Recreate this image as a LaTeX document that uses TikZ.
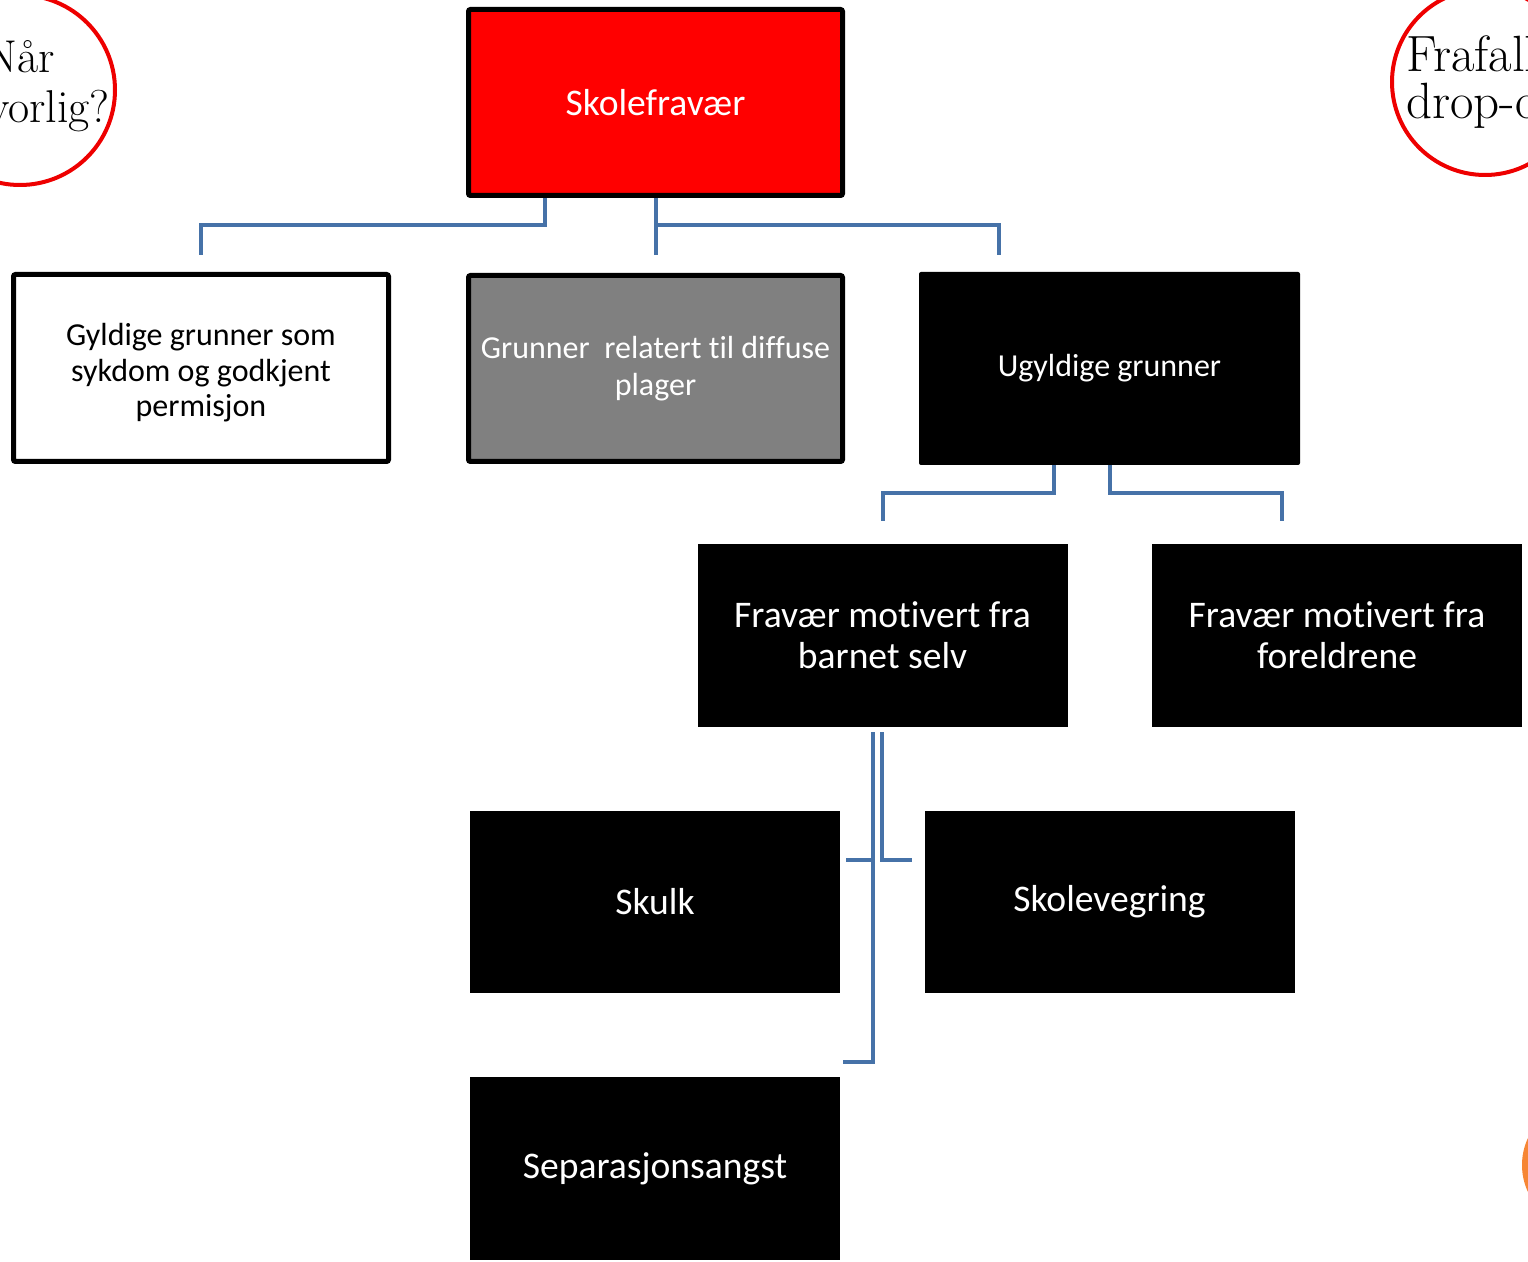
\documentclass[tikz,border=0pt]{standalone}
\usepackage{fontspec}
\newfontfamily\calib[Ligatures=NoCommon]{Carlito}
\definecolor{conncol}{RGB}{70,114,168}
\definecolor{circred}{RGB}{238,0,0}
\definecolor{orangec}{RGB}{246,134,52}
\definecolor{grayfill}{RGB}{128,128,128}
\begin{document}
\begin{tikzpicture}[x=0.5pt,y=-0.5pt,
  boxbase/.style={rectangle,align=center,font=\calib,inner sep=0pt},
  framedbox/.style={boxbase,draw=black,line width=2.5pt,rounded corners=1pt},
  blackbox/.style={boxbase,fill=black,text=white,minimum width=185pt,minimum height=91.5pt},
  bigtext/.style={font=\calib\fontsize{18.8pt}{20.5pt}\selectfont},
  midtext/.style={font=\calib\fontsize{16pt}{17.8pt}\selectfont},
  conn/.style={draw=conncol,line width=2pt},
  circ/.style={draw=circred,line width=2pt}]
\useasboundingbox (0,0) rectangle (1528,1262);
% circles in corners
\draw[circ] (20,90) circle[radius=47.5pt];
\node[anchor=base east,font=\fontsize{23pt}{26pt}\selectfont,inner sep=0pt] (nar) at (55,73) {Når};
\node[anchor=base east,font=\fontsize{23pt}{26pt}\selectfont,inner sep=0pt] (alv) at (110,123) {alvorlig?};
\draw[circ] (1485,82) circle[radius=46.5pt];
\node[anchor=base west,font=\fontsize{25.5pt}{28pt}\selectfont,inner sep=0pt] (fra) at (1406,72) {Frafall};
\node[anchor=base west,font=\fontsize{25.5pt}{28pt}\selectfont,inner sep=0pt] (drop) at (1406,119) {drop-out};
\fill[orangec] (1586,1165) circle[radius=32pt];
% boxes
\node[framedbox,fill=red,text=white,minimum width=187pt,minimum height=93pt,bigtext] (top) at (655.5,102.5) {Skolefravær};
\node[framedbox,fill=white,minimum width=187.5pt,minimum height=93.5pt] (gyl) at (201,368) {};
\node[boxbase,midtext,text=black] (gyltxt) at ([yshift=-2.5pt]gyl.center) {Gyldige grunner som\\sykdom og godkjent\\permisjon};
\node[framedbox,fill=grayfill,text=white,minimum width=187pt,minimum height=93pt,font=\calib\fontsize{16pt}{18.5pt}\selectfont] (diff) at (655.5,368.5) {Grunner\ \ relatert til diffuse\\plager};
\node[blackbox,minimum width=190.5pt,minimum height=96.5pt,rounded corners=1pt,midtext] (ugy) at (1109.5,368.5) {Ugyldige grunner};
\node[blackbox,bigtext] (barn) at (882.5,635.5) {Fravær motivert fra\\barnet selv};
\node[blackbox,bigtext] (forel) at (1337,635.5) {Fravær motivert fra\\foreldrene};
\node[blackbox,minimum height=91pt,bigtext] (skulk) at (655,902) {Skulk};
\node[blackbox,minimum height=91pt,bigtext] (vegr) at (1109.5,902) {Skolevegring};
\node[blackbox,bigtext] (sep) at (655,1168.5) {Separasjonsangst};
% connector end points
\coordinate (e1) at (201,255);
\coordinate (e2) at (655.5,255);
\coordinate (e3) at (999,255);
\coordinate (e4) at (883,521);
\coordinate (e5) at (1282,521);
\coordinate (e6) at (843,1062);
\coordinate (e7) at (846,860);
\coordinate (e8) at (912,860);
% connectors
\draw[conn] ([xshift=-55.25pt]top.south) -- ++(0,27) -| (e1);
\draw[conn] (top.south) -- (e2);
\draw[conn] ([yshift=-13.5pt]top.south) -| (e3);
\draw[conn] ([xshift=-27.75pt]ugy.south) -- ++(0,28) -| (e4);
\draw[conn] (ugy.south) -- ++(0,28) -| (e5);
\draw[conn] ([xshift=-4.75pt,yshift=-2.5pt]barn.south) |- (e6);
\draw[conn] (e7) -- ++(27,0);
\draw[conn] ([xshift=-0.25pt,yshift=-2.5pt]barn.south) |- (e8);
\end{tikzpicture}
\end{document}
